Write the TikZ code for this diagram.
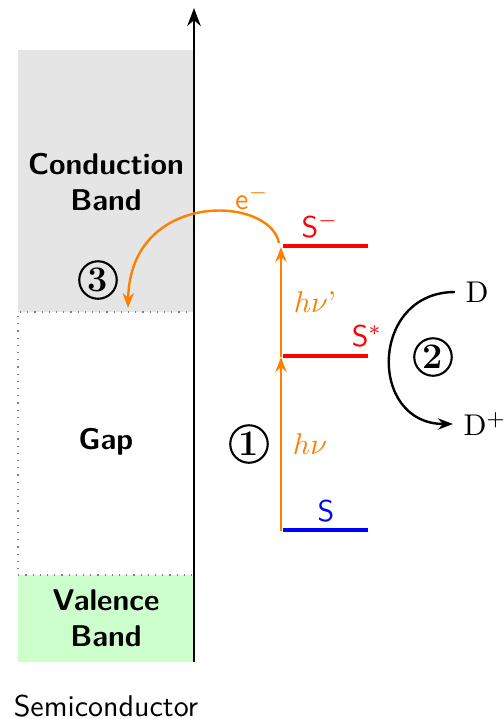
\documentclass[tikz,border=0pt]{standalone}
\usepackage{amsmath}
\usetikzlibrary{arrows.meta}
\definecolor{cbgray}{RGB}{229,229,229}
\definecolor{vbgreen}{RGB}{204,255,204}

\begin{document}
\begin{tikzpicture}[
  x=0.3333pt, y=-0.3333pt,
  band/.style={font=\sffamily\bfseries, align=center},
  lbl/.style={font=\sffamily},
  level/.style={line width=1.2pt},
  photon/.style={draw=orange, line width=0.8pt, -{Stealth[length=5pt]}},
  transfer/.style={line width=0.8pt, -{Stealth[length=5pt]}},
  num/.style={circle, draw, line width=0.7pt, inner sep=0pt,
    minimum size=12.5pt, font=\large\bfseries},
]
\useasboundingbox (0,0) rectangle (503,719);

% BANDS (left)
\fill[cbgray] (18,50) rectangle (194,312);
\fill[vbgreen] (18,575) rectangle (194,662);
\draw[dotted, gray] (194,312) -- (18,312) -- (18,575) -- (194,575);

\node[band] (cb) at (106,182) {Conduction\\Band};
\node[band] (gap) at (106,442) {Gap};
\node[band] (vb) at (106,618) {Valence\\Band};
\node[lbl] (semi) at (106,706) {Semiconductor};

% AXIS
\coordinate (ax0) at (194,662);
\coordinate (ax1) at (194,8);
\draw[line width=0.9pt, -{Stealth[length=6pt]}] (ax0) -- (ax1);

% LEVELS: S, S*, S-
\coordinate (S0) at (283,530);
\coordinate (S1) at (368,530);
\coordinate (Sx0) at (283,356);
\coordinate (Sx1) at (368,356);
\coordinate (Sm0) at (283,246);
\coordinate (Sm1) at (368,246);
\draw[blue, level] (S0) -- (S1);
\draw[red, level] (Sx0) -- (Sx1);
\draw[red, level] (Sm0) -- (Sm1);
\node[lbl, text=blue] (Slbl) at (326,511) {S};
\node[lbl, text=red] (Sxlbl) at (367,336) {S$^*$};
\node[lbl, text=red] (Smlbl) at (320,226) {S$^-$};

% PHOTONS
\coordinate (p0) at (281,531);
\coordinate (p1) at (281,357);
\coordinate (p2) at (281,247);
\draw[photon] (p0) -- (p1);
\draw[photon] (p1) -- (p2);
\node[text=orange] (hnu) at (310,444) {$h\nu$};
\node[text=orange] (hnup) at (315,302) {$h\nu$'};

% INJECTION
\coordinate (eStart) at (279,243);
\coordinate (eEnd) at (128,308);
\draw[photon] (eStart) .. controls (270,195) and (130,190) .. (eEnd);
\node[lbl, text=orange] (elec) at (252,198) {e$^-$};

% DONOR
\node (D) at (477,292) {D};
\node (Dp) at (485,424) {D$^+$};
\draw[transfer] (D.west) to[out=180, in=180, looseness=1.65] (Dp.west);

% STEPS
\node[num] (n1) at (249,444) {1};
\node[num] (n2) at (433,357) {2};
\node[num] (n3) at (98,280) {3};
\end{tikzpicture}
\end{document}
